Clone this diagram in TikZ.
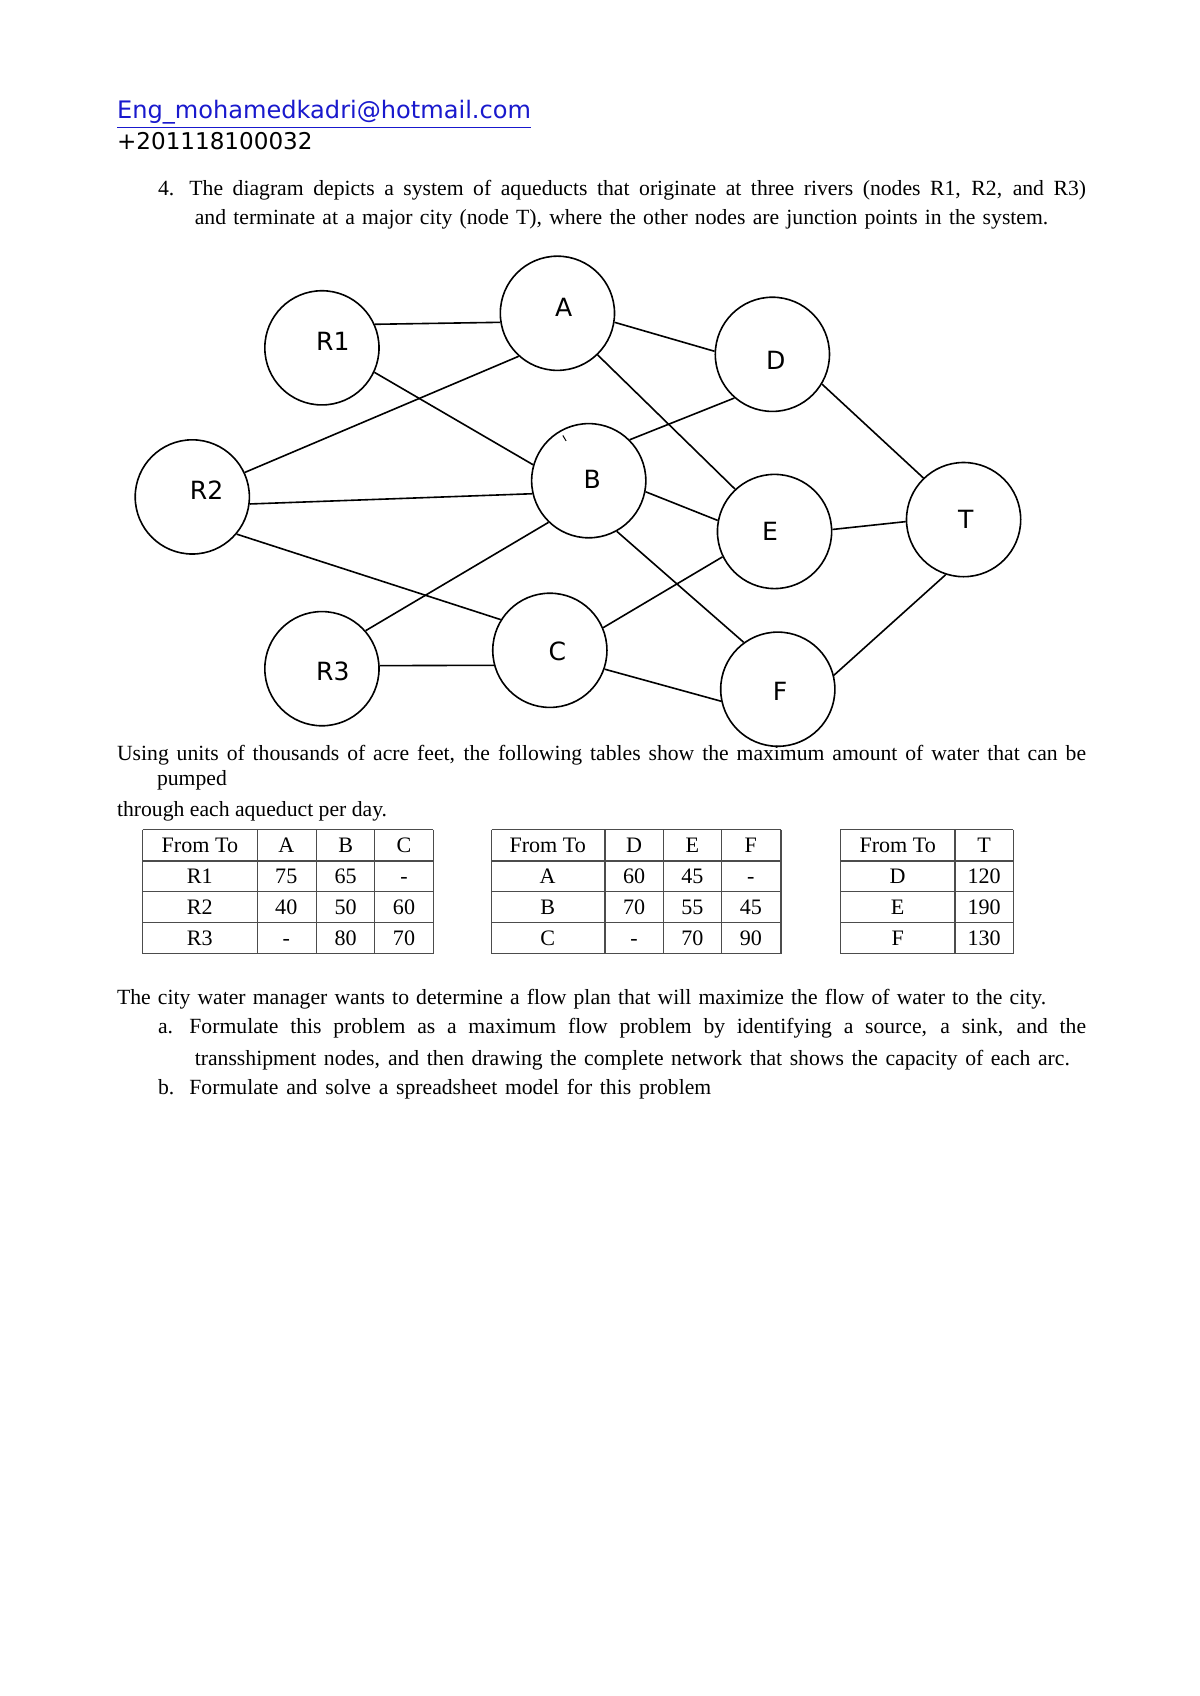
\documentclass[tikz,border=0pt]{standalone}
\usepackage{fontspec}
\setmainfont{Liberation Serif}
\newfontfamily\headfont{DejaVu Sans}
\usepackage{tikz}
\usetikzlibrary{positioning}
\definecolor{mailblue}{RGB}{25,25,205}
\newdimen\unitlen
\unitlen=0.1892mm
\newcommand{\spreadline}[2]{\makebox[#1\unitlen][s]{#2}}

\begin{document}
\begin{tikzpicture}[x=0.1892mm,y=-0.1892mm,
		junction/.style={circle,draw,line width=0.8pt,minimum size=20mm,inner sep=0mm},
		tag/.style={inner sep=0pt,font=\headfont\fontsize{12.5}{14}\selectfont},
		pipe/.style={line width=0.8pt},
		txt/.style={anchor=base west,inner sep=0pt,font=\fontsize{10.8}{12}\selectfont},
		cell/.style={anchor=base,inner sep=0pt,font=\fontsize{11}{12}\selectfont},
		tab/.style={line width=0.6pt,black!70}]
	\path[use as bounding box,fill=white] (0,0) rectangle (1110,1570);
	
	\node[anchor=base west,inner sep=0pt,font=\headfont\fontsize{12}{14}\selectfont,text=mailblue] (mail) at (108,110) {\underline{Eng\_mohamedkadri@hotmail.com}};
	\node[anchor=base west,inner sep=0pt,font=\headfont\fontsize{11.5}{14}\selectfont] (phone) at (108,138) {+201118100032};
	
	\node[txt] (num) at (146,181) {4.};
	\node[txt] (q1) at (175,181) {\spreadline{830}{The diagram depicts a system of aqueducts that originate at three rivers (nodes R1, R2, and R3)}};
	\node[txt] (q2) at (180,208) {\spreadline{790}{and terminate at a major city (node T), where the other nodes are junction points in the system.}};
	
	% the network
	\node[junction,label={[tag,xshift=1.9mm,yshift=1.1mm]center:R1}] (R1) at (298,322) {};
	\node[junction,label={[tag,xshift=2.5mm,yshift=1.1mm]center:R2}] (R2) at (178,460) {};
	\node[junction,label={[tag,xshift=1.9mm,yshift=-0.4mm]center:R3}] (R3) at (298,619) {};
	\node[junction,label={[tag,xshift=1.1mm,yshift=1.1mm]center:A}] (A) at (516,290) {};
	\node[junction,label={[tag,xshift=0.6mm,yshift=0.2mm]center:B}] (B) at (545,445) {};
	\node[junction,label={[tag,xshift=1.3mm,yshift=-0.2mm]center:C}] (C) at (509,602) {};
	\node[junction,label={[tag,xshift=0.6mm,yshift=-1.1mm]center:D}] (D) at (715,328) {};
	\node[junction,label={[tag,xshift=-0.8mm]center:E}] (E) at (717,492) {};
	\node[junction,label={[tag,xshift=0.4mm,yshift=-0.4mm]center:F}] (F) at (720,638) {};
	\node[junction,label={[tag,xshift=0.4mm]center:T}] (T) at (892,481) {};
	
	\draw[pipe] (R1.24) -- (A.189);
	\draw[pipe] (R1.335) -- (B.164);
	\draw[pipe] (R2.25) -- (A.228);
	\draw[pipe] (R2.353) -- (B.193);
	\draw[pipe] (R2.320) -- (C.148);
	\draw[pipe] (R3.41) -- (B.226);
	\draw[pipe] (R3.3) -- (C.195);
	\draw[pipe] (A.351) -- (D.177);
	\draw[pipe] (A.314) -- (E.133);
	\draw[pipe] (B.45) -- (D.229);
	\draw[pipe] (B.349) -- (E.169);
	\draw[pipe] (B.299) -- (F.126);
	\draw[pipe] (C.23) -- (E.206);
	\draw[pipe] (C.341) -- (F.192);
	\draw[pipe] (D.329) -- (T.134);
	\draw[pipe] (E.2) -- (T.182);
	\draw[pipe] (F.14) -- (T.252);
	\draw[line width=0.5pt] ([shift={(2,5)}]B.119) -- ++(3,5);
	
	\node[txt] (units) at (108,704) {\spreadline{897}{Using units of thousands of acre feet, the following tables show the maximum amount of water that can be}};
	\node[txt] (pumped) at (145,727) {pumped};
	\node[txt] (through) at (108,756) {through each aqueduct per day.};
	
	% first table
	\foreach \xx in {132,238,293,347,401} \draw[tab] (\xx,768) -- (\xx,883);
	\foreach \yy in {768,797,825,854,883} \draw[tab] (132,\yy) -- (401,\yy);
	\foreach \lab/\va/\vb/\vc [count=\r from 0] in {From To/A/B/C, R1/75/65/-, R2/40/50/60, R3/-/80/70} {
		\node[cell] (ta-\r-0) at (185,{789+28.7*\r}) {\lab};
		\node[cell] (ta-\r-1) at (265,{789+28.7*\r}) {\va};
		\node[cell] (ta-\r-2) at (320,{789+28.7*\r}) {\vb};
		\node[cell] (ta-\r-3) at (374,{789+28.7*\r}) {\vc};
	}
	% second table
	\foreach \xx in {455,560,614,668,723} \draw[tab] (\xx,768) -- (\xx,883);
	\foreach \yy in {768,797,825,854,883} \draw[tab] (455,\yy) -- (723,\yy);
	\foreach \lab/\va/\vb/\vc [count=\r from 0] in {From To/D/E/F, A/60/45/-, B/70/55/45, C/-/70/90} {
		\node[cell] (tb-\r-0) at (507,{789+28.7*\r}) {\lab};
		\node[cell] (tb-\r-1) at (587,{789+28.7*\r}) {\va};
		\node[cell] (tb-\r-2) at (641,{789+28.7*\r}) {\vb};
		\node[cell] (tb-\r-3) at (695,{789+28.7*\r}) {\vc};
	}
	% third table
	\foreach \xx in {778,884,938} \draw[tab] (\xx,768) -- (\xx,883);
	\foreach \yy in {768,797,825,854,883} \draw[tab] (778,\yy) -- (938,\yy);
	\foreach \lab/\va [count=\r from 0] in {From To/T, D/120, E/190, F/130} {
		\node[cell] (tc-\r-0) at (831,{789+28.7*\r}) {\lab};
		\node[cell] (tc-\r-1) at (911,{789+28.7*\r}) {\va};
	}
	
	\node[txt] (city) at (108,930) {\spreadline{860}{The city water manager wants to determine a flow plan that will maximize the flow of water to the city.}};
	\node[txt] (pa) at (146,957) {a.};
	\node[txt] (a1) at (175,957) {\spreadline{830}{Formulate this problem as a maximum flow problem by identifying a source, a sink, and the}};
	\node[txt] (a2) at (180,986) {\spreadline{810}{transshipment nodes, and then drawing the complete network that shows the capacity of each arc.}};
	\node[txt] (pb) at (146,1013) {b.};
	\node[txt] (b1) at (175,1013) {\spreadline{483}{Formulate and solve a spreadsheet model for this problem}};
\end{tikzpicture}
\end{document}
